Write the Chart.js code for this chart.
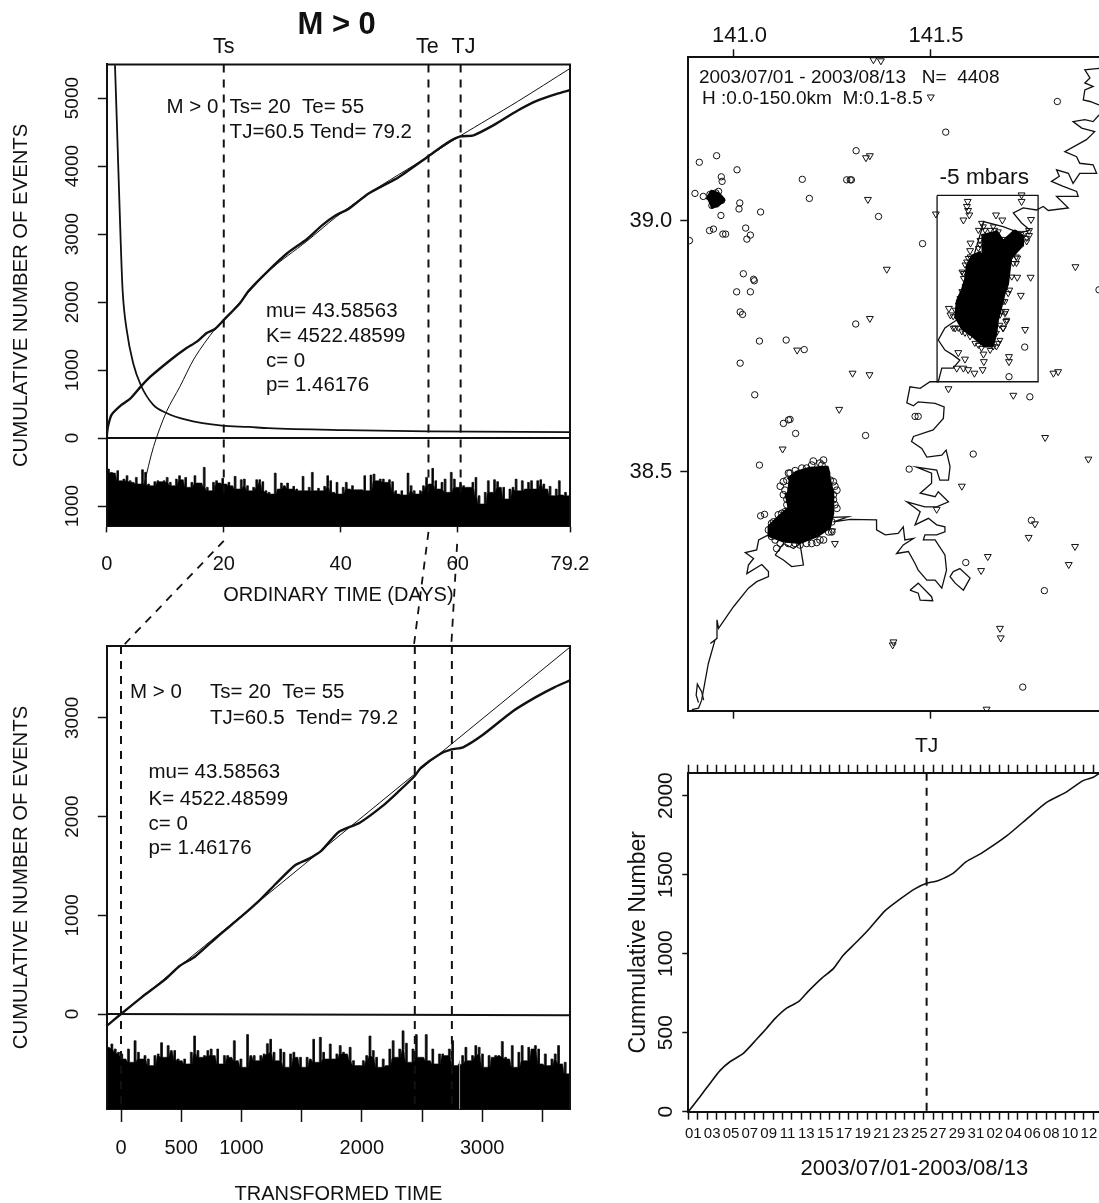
<!DOCTYPE html>
<html>
<head>
<meta charset="utf-8">
<title>M > 0</title>
<script src="https://cdn.jsdelivr.net/npm/chart.js@4/dist/chart.umd.min.js"></script>
<style>
  html, body { margin: 0; padding: 0; background: #fff; }
  body { position: relative; width: 1099px; height: 1203px; overflow: hidden; }
  canvas { position: absolute; }
</style>
</head>
<body>
<canvas id="top-left"></canvas>
<canvas id="bottom-left"></canvas>
<canvas id="map"></canvas>
<canvas id="cumulative"></canvas>
<script>
// ordinary time panel
const ordinaryTicks = [0, 20, 40, 60, 79.2];
const ordinaryCountTicks = [5000, 4000, 3000, 2000, 1000, 0, -1000];
const mainDays = [0, 0.03, 0.2, 0.8, 2.5, 3.95, 5.8, 7.4, 11.1, 13.4, 15.4, 17.1, 18.5, 19.9, 22.8, 24.3, 27.6, 30.9, 34.2, 36.8, 39.1, 41.4, 44.7, 49.9, 55, 58.1, 60.5, 62.7, 66.3, 70.2, 73.5, 76.8, 79.2];
const mainCounts = [0, 60, 170, 340, 487, 575, 756, 899, 1163, 1310, 1418, 1546, 1604, 1727, 1987, 2169, 2459, 2721, 2924, 3128, 3273, 3372, 3593, 3837, 4145, 4337, 4436, 4453, 4610, 4814, 4959, 5058, 5116];
const fitDays = [6.3, 8, 10.2, 12.5, 15, 18.5, 20, 27.6, 34.2, 39.1, 44.7, 55, 60.5, 70.2, 79.2];
const fitCounts = [-709, -126, 388, 756, 1178, 1604, 1733, 2448, 2895, 3244, 3593, 4145, 4448, 4948, 5436];
const rateDays = [1.4, 1.7, 2.35, 2.7, 3.4, 4.5, 5.8, 7.95, 10.2, 13.7, 19.7, 24.3, 27.6, 40.7, 55, 79.2];
const rateCounts = [5483, 4698, 2953, 2178, 1590, 1104, 780, 487, 369, 266, 182, 163, 145, 116, 99, 87];
const ordinaryBand = [456, 505, 515, 480, 628, 603, 554, 628, 652, 579, 676, 466, 505, 676, 701, 642, 628, 642, 628, 579, 652, 701, 603, 554, 613, 579, 725, 652, 554, 662, 662, 431, 725, 775, 652, 628, 662, 593, 676, 652, 701, 564, 750, 613, 603, 701, 775, 725, 613, 613, 642, 775, 799, 824, 515, 750, 662, 701, 662, 750, 711, 750, 775, 564, 775, 725, 505, 775, 740, 775, 711, 554, 628, 799, 652, 824, 725, 652, 750, 701,
  760, 760, 760, 554, 775, 544, 530, 628, 603, 603, 652, 613, 642, 775, 824, 775, 838, 515, 701, 775, 824, 775, 701, 579, 676, 446, 628, 750, 652, 603, 799, 505, 603, 725, 652, 701, 725, 725, 652, 579, 848, 970, 799, 628, 799, 613, 642, 725, 725, 897, 750, 725, 603, 775, 628, 750, 652, 628, 750, 628, 613, 676, 750, 711, 848, 750, 628, 838, 799, 848];
const ordinaryTimes = [20, 55, 60.5];
const connectorFromDays = [20, 55, 59.9];
const connectorFromCounts = [-1513, -1381, -1557];
const connectorToDays = [2.43, 52.5, 58.9];
const connectorToCounts = [-3087, -3057, -3057];

// transformed time panel
const transformedTicks = [0, 500, 1000, 1500, 2000, 2500, 3000, 3500];
const transformedLabels = [0, 500, 1000, 2000, 3000];
const transformedCountTicks = [3000, 2000, 1000, 0];
const transformedTime = [-118, 0, 171, 362, 489, 616, 807, 998, 1157, 1284, 1443, 1554, 1665, 1808, 1983, 2173, 2301, 2437, 2491, 2650, 2745, 2841, 3000, 3254, 3445, 3603, 3730];
const transformedCounts = [-120, 0, 169, 346, 489, 583, 790, 986, 1159, 1317, 1505, 1569, 1656, 1844, 1938, 2108, 2250, 2409, 2495, 2634, 2680, 2702, 2823, 3067, 3210, 3312, 3380];
const unitLineTime = [-118, 3730];
const unitLineCounts = [-120, 3718];
const transformedBand = [337, 303, 354, 387, 404, 455, 354, 488, 270, 387, 455, 421, 455, 522, 421, 404, 290, 438, 320, 370, 370, 455, 472, 455, 505, 387, 222, 370, 438, 421, 370, 354, 421, 354, 505, 421, 421, 438, 270, 472, 455, 539, 208, 421, 421, 472, 421, 404, 300, 255, 387, 472, 354, 387, 539, 404, 387, 438, 438, 539, 438, 455, 255, 488, 236, 387, 455, 303, 455,
  404, 320, 387, 404, 337, 472, 522, 522, 472, 421, 222, 370, 438, 539, 455, 522, 354, 270, 438, 354, 170, 295, 488, 354, 208, 438, 438, 208, 472, 354, 505, 404, 404, 421, 354, 270, 522, 505, 421, 337, 472, 421, 320, 337, 404, 539, 421, 438, 421, 421, 278, 438, 455, 320, 539, 387, 320, 472, 337, 354, 320, 354, 505, 404, 522, 455, 404, 320, 505, 488, 606];
const transformedTimes = [0, 2440, 2748];
const bandGapTime = [2812, 2812];
const bandGapDepth = [-962, -470];

// epicentre map, [lon, lat]
const lonTicks = [141.0, 141.5];
const latTicks = [39.0, 38.5];
const circles = [[141.540,39.176],[141.824,39.237],[141.312,39.139],[140.957,39.129],[140.913,39.116],[141.009,39.101],[140.969,39.087],[140.971,39.078],[141.175,39.082],[141.288,39.081],[141.297,39.081],[141.300,39.081],[140.902,39.054],[140.923,39.048],[140.940,39.052],[140.945,39.030],[140.962,39.058],[140.955,39.055],[140.970,39.040],[141.193,39.044],[141.016,39.035],[141.014,39.023],[141.069,39.017],[140.968,39.010],[141.369,39.008],[140.939,38.980],[140.949,38.983],[140.973,38.973],[140.980,38.973],[141.031,38.985],[141.043,38.971],[141.034,38.963],[140.888,38.960],[141.481,38.954],[141.025,38.894],[141.051,38.883],[141.053,38.880],[141.008,38.858],[141.043,38.858],[141.017,38.818],[141.023,38.813],[141.311,38.794],[141.066,38.760],[141.134,38.762],[141.180,38.743],[141.017,38.716],[141.701,38.689],[141.741,38.748],[141.054,38.653],[141.754,38.649],[141.144,38.604],[141.140,38.603],[141.127,38.596],[141.158,38.576],[141.336,38.572],[141.462,38.610],[141.470,38.610],[141.610,38.535],[141.447,38.505],[141.066,38.513],[141.591,38.319],[141.758,38.403],[141.791,38.263],[141.736,38.071],[141.069,38.412],[141.079,38.415],[141.930,38.862]];
const triangles = [[141.502,39.246],[141.375,39.318],[141.356,39.320],[141.347,39.129],[141.337,39.125],[141.342,39.042],[141.515,39.013],[141.390,38.903],[141.870,38.908],[141.347,38.805],[141.162,38.742],[141.303,38.696],[141.346,38.693],[141.814,38.696],[141.826,38.699],[141.547,38.665],[141.712,38.652],[141.596,39.038],[141.594,39.028],[141.597,39.020],[141.600,39.011],[141.585,39.001],[141.668,39.011],[141.684,39.001],[141.757,39.002],[141.733,39.051],[141.733,39.038],[141.752,38.980],[141.752,38.970],[141.603,38.955],[141.602,38.940],[141.722,38.925],[141.722,38.887],[141.756,38.887],[141.731,38.851],[141.548,38.825],[141.552,38.812],[141.692,38.819],[141.694,38.799],[141.686,38.786],[141.742,38.783],[141.564,38.786],[141.636,38.734],[141.637,38.719],[141.701,38.729],[141.701,38.719],[141.589,38.724],[141.572,38.737],[141.568,38.706],[141.585,38.706],[141.597,38.703],[141.613,38.696],[141.634,38.703],[141.269,38.624],[141.793,38.568],[141.903,38.525],[141.125,38.545],[141.581,38.471],[141.517,38.425],[141.767,38.396],[141.751,38.369],[141.869,38.351],[141.647,38.331],[141.630,38.303],[141.853,38.315],[141.258,38.357],[141.251,38.382],[141.678,38.188],[141.680,38.169],[141.407,38.161],[141.405,38.155],[141.644,38.027]];
const northEdge = [[141.636,38.988],[141.653,38.981],[141.665,38.981],[141.686,38.963],[141.627,38.961],[141.623,38.945],[141.597,38.925],[141.589,38.912],[141.581,38.898],[141.585,38.885],[141.593,38.875],[141.581,38.859],[141.576,38.845],[141.564,38.822],[141.559,38.809],[141.572,38.786],[141.589,38.776],[141.614,38.756],[141.631,38.746],[141.653,38.742],[141.669,38.749],[141.678,38.762],[141.686,38.786],[141.695,38.802],[141.682,38.819],[141.691,38.839],[141.703,38.862],[141.708,38.888],[141.712,38.915],[141.720,38.928],[141.746,38.958],[141.742,38.975],
  [141.631,38.995],[141.640,38.981],[141.661,38.988],[141.674,38.978],[141.623,38.981],[141.627,38.952],[141.602,38.928],[141.593,38.918],[141.610,38.925],[141.585,38.895],[141.597,38.892],[141.589,38.869],[141.585,38.845],[141.572,38.832],[141.593,38.855],[141.691,38.948],[141.703,38.945],[141.725,38.975],[141.746,38.965],[141.699,38.915],[141.720,38.915],[141.695,38.888],[141.699,38.855],[141.686,38.839],[141.678,38.812],[141.691,38.815],[141.678,38.792],[141.669,38.776],[141.674,38.756],[141.661,38.749],[141.623,38.752],[141.602,38.769],[141.581,38.779],[141.559,38.786]];
const southEdge = [[141.229,38.523],[141.203,38.521],[141.186,38.507],[141.144,38.497],[141.127,38.480],[141.119,38.471],[141.136,38.445],[141.131,38.420],[141.114,38.414],[141.097,38.397],[141.106,38.364],[141.110,38.347],[141.157,38.357],[141.186,38.357],[141.212,38.359],[141.229,38.364],[141.250,38.380],[141.258,38.434],[141.254,38.454],[141.258,38.471],[141.246,38.483],[141.225,38.513],[141.237,38.410],[141.136,38.483],
  [141.131,38.463],[141.127,38.454],[141.136,38.434],[141.140,38.497],[141.157,38.502],[141.174,38.507],[141.199,38.513],[141.220,38.517],[141.237,38.497],[141.254,38.480],[141.263,38.463],[141.254,38.444],[141.263,38.427],[141.250,38.400],[141.242,38.380],[141.220,38.364],[141.199,38.357],[141.169,38.354],[141.140,38.357],[141.119,38.357],[141.097,38.371],[141.089,38.384],[141.102,38.400],[141.123,38.417],[141.117,38.400]];
const northBlob = [[141.631,38.968],[141.669,38.975],[141.686,38.955],[141.699,38.965],[141.716,38.977],[141.733,38.968],[141.733,38.952],[141.716,38.938],[141.703,38.925],[141.699,38.902],[141.695,38.875],[141.686,38.855],[141.678,38.829],[141.669,38.802],[141.665,38.776],[141.657,38.752],[141.640,38.752],[141.610,38.772],[141.585,38.786],[141.568,38.809],[141.572,38.839],[141.585,38.862],[141.593,38.882],[141.597,38.908],[141.610,38.928],[141.631,38.935]];
const southBlob = [[141.140,38.483],[141.161,38.497],[141.195,38.505],[141.237,38.507],[141.242,38.483],[141.250,38.457],[141.250,38.417],[141.242,38.390],[141.212,38.374],[141.169,38.361],[141.127,38.364],[141.093,38.374],[141.093,38.390],[141.119,38.410],[141.144,38.427],[141.136,38.457]];
const westBlob = [[140.934,39.041],[140.945,39.056],[140.962,39.051],[140.973,39.041],[140.958,39.031],[140.941,39.029]];
const coastNorthA = [[141.930,39.303],[141.894,39.300],[141.907,39.284],[141.894,39.274],[141.915,39.267],[141.894,39.260],[141.890,39.240],[141.907,39.237],[141.930,39.230]];
const coastMain = [[141.930,39.210],[141.915,39.197],[141.894,39.201],[141.864,39.197],[141.886,39.184],[141.919,39.177],[141.898,39.161],[141.843,39.137],[141.873,39.127],[141.881,39.114],[141.915,39.111],[141.924,39.094],[141.881,39.094],[141.864,39.074],[141.852,39.094],[141.822,39.101],[141.829,39.088],[141.809,39.078],[141.839,39.068],[141.873,39.058],[141.877,39.048],[141.822,39.048],[141.852,39.025],[141.801,39.020],[141.788,39.028],[141.771,39.021],[141.737,39.025],[141.712,39.015],[141.733,38.995],[141.754,38.981],[141.729,38.975],[141.686,38.988],[141.636,38.998],[141.631,38.981],[141.600,38.900],[141.568,38.802],[141.538,38.786],[141.521,38.762],[141.538,38.742],[141.559,38.732],[141.576,38.722],[141.559,38.706],[141.530,38.706],[141.521,38.679],[141.500,38.679],[141.475,38.666],[141.449,38.669],[141.441,38.637],[141.458,38.631],[141.470,38.639],[141.513,38.636],[141.536,38.629],[141.534,38.606],[141.508,38.583],[141.458,38.570],[141.453,38.560],[141.479,38.546],[141.492,38.529],[141.530,38.533],[141.541,38.543],[141.551,38.510],[141.547,38.483],[141.525,38.483],[141.517,38.503],[141.466,38.509],[141.504,38.497],[141.504,38.477],[141.475,38.457],[141.513,38.450],[141.521,38.460],[141.547,38.440],[141.517,38.430],[141.487,38.430],[141.441,38.440],[141.475,38.420],[141.462,38.394],[141.496,38.407],[141.517,38.394],[141.538,38.390],[141.538,38.380],[141.517,38.374],[141.487,38.374],[141.483,38.364],[141.513,38.364],[141.538,38.334],[141.542,38.304],[141.530,38.268],[141.513,38.284],[141.492,38.284],[141.470,38.304],[141.462,38.317],[141.445,38.341],[141.415,38.337],[141.432,38.354],[141.458,38.367],[141.436,38.364],[141.432,38.390],[141.419,38.377],[141.386,38.374],[141.364,38.384],[141.364,38.404],[141.297,38.405],[141.254,38.400],[141.292,38.410],[141.250,38.409],[141.170,38.400],[141.089,38.374],[141.064,38.364],[141.059,38.344],[141.030,38.339],[141.051,38.327],[141.038,38.314],[141.034,38.297],[141.072,38.315],[141.089,38.301],[141.089,38.291],[141.059,38.281],[141.038,38.268],[141.000,38.231],[140.962,38.188],[140.958,38.205],[140.958,38.168],[140.941,38.158],[140.953,38.165],[140.936,38.118],[140.919,38.045],[140.911,38.029],[140.894,38.026]];
const islandEast = [[141.559,38.301],[141.576,38.307],[141.602,38.288],[141.585,38.264],[141.564,38.278],[141.551,38.291],[141.559,38.301]];
const islandSouth = [[141.449,38.264],[141.470,38.278],[141.504,38.251],[141.507,38.243],[141.475,38.244],[141.470,38.258],[141.449,38.264]];
const islandWest = [[141.106,38.334],[141.127,38.357],[141.153,38.347],[141.169,38.357],[141.178,38.314],[141.148,38.311],[141.127,38.324],[141.106,38.334]];
const bayMatsushima = [[140.911,38.040],[140.905,38.055],[140.908,38.077],[140.919,38.062],[140.924,38.045]];
const boxLon = [141.518, 141.775, 141.775, 141.518, 141.518];
const boxLat = [39.050, 39.050, 38.679, 38.679, 39.050];

// cumulative number panel
const dayLabels = ["01", "03", "05", "07", "09", "11", "13", "15", "17", "19", "21", "23", "25", "27", "29", "31", "02", "04", "06", "08", "10", "12"];
const dayTicks = [0, 1, 2, 3, 4, 5, 6, 7, 8, 9, 10, 11, 12, 13, 14, 15, 16, 17, 18, 19, 20, 21, 22, 23, 24, 25, 26, 27, 28, 29, 30, 31, 32, 33, 34, 35, 36, 37, 38, 39, 40, 41, 42, 43];
const numberTicks = [2000, 1500, 1000, 500, 0];
const cumulativeDays = [0, 1.24, 2.3, 3.36, 4.42, 5.84, 7.25, 8.3, 9.2, 10.4, 11.7, 12.7, 14.15, 15.4, 16.45, 17.7, 19.1, 20.9, 22.5, 24.05, 25.3, 26.5, 28.1, 29.5, 31.1, 33.8, 36.1, 38, 40.2, 41.9, 43, 43.6];
const cumulativeNumber = [0, 95, 179, 260, 316, 369, 458, 527, 589, 654, 696, 760, 844, 905, 990, 1064, 1150, 1272, 1346, 1410, 1445, 1462, 1508, 1582, 1635, 1745, 1861, 1956, 2025, 2095, 2116, 2140];
const jumpDay = 25.3;

Chart.defaults.font.family = "'Liberation Sans', Arial, sans-serif";
Chart.defaults.color = "#111";
Chart.defaults.animation = false;

const ink = "#111";

function pairs(xs, ys) {
  return xs.map((x, i) => ({ x: x, y: ys[i] }));
}
function lonLat(list) {
  return list.map(p => ({ x: p[0], y: p[1] }));
}
function curve(data, width, extra) {
  return Object.assign({ data: data, showLine: true, borderColor: ink, borderWidth: width, pointRadius: 0 }, extra || {});
}
function dashed(data) {
  return curve(data, 2, { borderDash: [8, 7] });
}
// comb outline: every bin is a narrow needle standing on the lower of its neighbours
function bandSeries(depths, start, end) {
  const step = (end - start) / depths.length;
  const half = step * 0.27;
  const out = [];
  depths.forEach((d, i) => {
    const x = start + (i + 0.5) * step;
    const foot = Math.max(d, depths[i - 1] || d, depths[i + 1] || d);
    out.push({ x: x - half, y: -foot }, { x: x - half, y: -d }, { x: x + half, y: -d }, { x: x + half, y: -foot });
  });
  return out;
}

// text placed in data coordinates, and the two far sides of the R style box
const panelNotes = {
  id: "panelNotes",
  afterDraw(chart, args, opts) {
    const ctx = chart.ctx;
    const xScale = chart.scales.x;
    const yScale = chart.scales.y;
    ctx.save();
    if (opts.box) {
      const a = chart.chartArea;
      ctx.strokeStyle = ink;
      ctx.lineWidth = 2;
      ctx.beginPath();
      ctx.moveTo(a.left, a.top);
      ctx.lineTo(a.right, a.top);
      ctx.lineTo(a.right, a.bottom);
      ctx.stroke();
    }
    (opts.notes || []).forEach(n => {
      ctx.font = (n.bold ? "bold " : "") + n.size + "px 'Liberation Sans', Arial, sans-serif";
      ctx.fillStyle = ink;
      ctx.textAlign = n.align || "left";
      ctx.textBaseline = "middle";
      ctx.fillText(n.text, xScale.getPixelForValue(n.x), yScale.getPixelForValue(n.y));
    });
    ctx.restore();
  }
};
Chart.register(panelNotes);

function fixedTicks(list) {
  return scale => { scale.ticks = list.map(v => ({ value: v })); };
}
function axisGrid(len) {
  return { drawOnChartArea: false, tickLength: len, tickColor: ink, tickWidth: 1.5 };
}
const axisBorder = { display: true, width: 2, color: ink };

function sized(id, left, top, width, height) {
  const c = document.getElementById(id);
  c.width = width;
  c.height = height;
  c.style.left = left + "px";
  c.style.top = top + "px";
  return c;
}

function baseOptions(padding, notes, box, scales) {
  return {
    responsive: false,
    maintainAspectRatio: false,
    events: [],
    layout: { autoPadding: false, padding: padding },
    plugins: { legend: { display: false }, tooltip: { enabled: false }, panelNotes: { notes: notes, box: box } },
    scales: scales
  };
}

// ordinary time
const ordinaryNotes = [
  { text: "M > 0", x: 39.3, y: 6064, size: 31, bold: true, align: "center" },
  { text: "Ts", x: 20, y: 5745, size: 21.5, align: "center" },
  { text: "Te", x: 54.8, y: 5745, size: 21.5, align: "center" },
  { text: "TJ", x: 61, y: 5745, size: 21.5, align: "center" },
  { text: "M > 0", x: 10.2, y: 4860, size: 20.5 },
  { text: "Ts= 20  Te= 55", x: 21, y: 4860, size: 20.5 },
  { text: "TJ=60.5 Tend= 79.2", x: 21, y: 4494, size: 20.5 },
  { text: "mu= 43.58563", x: 27.2, y: 1860, size: 20.5 },
  { text: "K= 4522.48599", x: 27.2, y: 1501, size: 20.5 },
  { text: "c= 0", x: 27.2, y: 1122, size: 20.5 },
  { text: "p= 1.46176", x: 27.2, y: 774, size: 20.5 }
];
new Chart(sized("top-left", 0, 0, 620, 660), {
  type: "scatter",
  data: {
    datasets: [
      curve(pairs(mainDays, mainCounts), 2.4, { tension: 0.2 }),
      curve(pairs(fitDays, fitCounts), 1, { tension: 0.3 }),
      curve(pairs(rateDays, rateCounts), 1.8, { cubicInterpolationMode: "monotone" }),
      curve(pairs([0, 79.2], [0, 0]), 2),
      dashed(pairs([ordinaryTimes[0], ordinaryTimes[0]], [5496, -900])),
      dashed(pairs([ordinaryTimes[1], ordinaryTimes[1]], [5496, -900])),
      dashed(pairs([ordinaryTimes[2], ordinaryTimes[2]], [5496, -900])),
      dashed(pairs([connectorFromDays[0], connectorToDays[0]], [connectorFromCounts[0], connectorToCounts[0]])),
      dashed(pairs([connectorFromDays[1], connectorToDays[1]], [connectorFromCounts[1], connectorToCounts[1]])),
      dashed(pairs([connectorFromDays[2], connectorToDays[2]], [connectorFromCounts[2], connectorToCounts[2]])),
      curve(bandSeries(ordinaryBand, 0, 79.2), 0.6, { fill: "start", backgroundColor: "#000" })
    ].map((d, i) => (i >= 7 && i <= 9 ? Object.assign(d, { clip: false, borderWidth: 1.8 }) : d))
  },
  options: baseOptions({ top: 64.4, right: 50 }, ordinaryNotes, true, {
    x: {
      type: "linear", min: 0, max: 79.2, position: "bottom",
      grid: axisGrid(6), border: axisBorder,
      afterBuildTicks: fixedTicks(ordinaryTicks),
      afterFit: s => { s.height = 133.6; },
      ticks: { autoSkip: false, maxRotation: 0, padding: 20, font: { size: 20 }, color: ink, callback: v => String(v) },
      title: { display: true, text: "ORDINARY TIME (DAYS)", font: { size: 20 }, color: ink, padding: { top: 0, bottom: 53 } }
    },
    y: {
      type: "linear", min: -1300, max: 5496, position: "left",
      grid: axisGrid(9), border: axisBorder,
      afterBuildTicks: fixedTicks(ordinaryCountTicks),
      afterFit: s => { s.width = 106.8; },
      ticks: { autoSkip: false, minRotation: 90, maxRotation: 90, crossAlign: "center", padding: 4, font: { size: 19 }, color: ink, callback: v => String(Math.abs(v)) },
      title: { display: true, text: "CUMULATIVE NUMBER OF EVENTS", font: { size: 20.3 }, color: ink, padding: { top: 9, bottom: 0 } }
    }
  })
});

// transformed time
const transformedNotes = [
  { text: "M > 0", x: 75, y: 3257, size: 20.5 },
  { text: "Ts= 20  Te= 55", x: 739, y: 3257, size: 20.5 },
  { text: "TJ=60.5  Tend= 79.2", x: 739, y: 2994, size: 20.5 },
  { text: "mu= 43.58563", x: 228, y: 2448, size: 20.5 },
  { text: "K= 4522.48599", x: 228, y: 2172, size: 20.5 },
  { text: "c= 0", x: 228, y: 1920, size: 20.5 },
  { text: "p= 1.46176", x: 228, y: 1676, size: 20.5 }
];
new Chart(sized("bottom-left", 0, 620, 620, 583), {
  type: "scatter",
  data: {
    datasets: [
      curve(pairs(transformedTime, transformedCounts), 2.4, { tension: 0.2 }),
      curve(pairs(unitLineTime, unitLineCounts), 1),
      curve(pairs([-118, 3729], [0, -12]), 2),
      dashed(pairs([transformedTimes[0], transformedTimes[0]], [3728, -962])),
      dashed(pairs([transformedTimes[1], transformedTimes[1]], [3728, -962])),
      dashed(pairs([transformedTimes[2], transformedTimes[2]], [3728, -962])),
      curve(pairs(bandGapTime, bandGapDepth), 1, { borderColor: "#999" }),
      curve(bandSeries(transformedBand, -118, 3729), 0.6, { fill: "start", backgroundColor: "#000" })
    ]
  },
  options: baseOptions({ top: 26, right: 50 }, transformedNotes, true, {
    x: {
      type: "linear", min: -118, max: 3729, position: "bottom",
      grid: axisGrid(13), border: axisBorder,
      afterBuildTicks: fixedTicks(transformedTicks),
      afterFit: s => { s.height = 94; },
      ticks: { autoSkip: false, maxRotation: 0, padding: 14, font: { size: 20 }, color: ink, callback: v => (transformedLabels.includes(v) ? String(v) : "") },
      title: { display: true, text: "TRANSFORMED TIME", font: { size: 20 }, color: ink, padding: { top: 0, bottom: -3 } }
    },
    y: {
      type: "linear", min: -962, max: 3728, position: "left",
      grid: axisGrid(9), border: axisBorder,
      afterBuildTicks: fixedTicks(transformedCountTicks),
      afterFit: s => { s.width = 106.8; },
      ticks: { autoSkip: false, minRotation: 90, maxRotation: 90, crossAlign: "center", padding: 4, font: { size: 19 }, color: ink, callback: v => String(v) },
      title: { display: true, text: "CUMULATIVE NUMBER OF EVENTS", font: { size: 20.3 }, color: ink, padding: { top: 9, bottom: 0 } }
    }
  })
});

// map
function markers(list, shape, radius, rotation) {
  return { data: lonLat(list), pointStyle: shape, pointRadius: radius, pointRotation: rotation || 0, pointBorderColor: ink, pointBackgroundColor: "rgba(255,255,255,0)", pointBorderWidth: 1, showLine: false, xAxisID: "x", yAxisID: "y" };
}
function coast(list) {
  return curve(lonLat(list), 1.3, { xAxisID: "x", yAxisID: "y" });
}
function blob(list) {
  return curve(lonLat(list), 5, { fill: "shape", backgroundColor: "#000", borderColor: "#000", borderJoinStyle: "round", xAxisID: "x", yAxisID: "y" });
}
const mapNotes = [
  { text: "2003/07/01 - 2003/08/13   N=  4408", x: 140.912, y: 39.284, size: 19 },
  { text: "H :0.0-150.0km  M:0.1-8.5", x: 140.92, y: 39.242, size: 19 },
  { text: "-5 mbars", x: 141.638, y: 39.085, size: 22.7, align: "center" }
];
new Chart(sized("map", 620, 0, 479, 740), {
  type: "scatter",
  data: {
    datasets: [
      blob(northBlob), blob(southBlob), blob(westBlob),
      markers(circles, "circle", 3.2),
      markers(triangles, "triangle", 4, 180),
      markers(northEdge, "triangle", 3.4, 180),
      markers(southEdge, "circle", 3.4),
      curve(pairs(boxLon, boxLat), 1.3, { xAxisID: "x", yAxisID: "y" }),
      coast(coastNorthA), coast(coastMain), coast(islandEast), coast(islandSouth), coast(islandWest), coast(bayMatsushima)
    ]
  },
  options: baseOptions({ top: 0, right: 0 }, mapNotes, false, {
    x: {
      type: "linear", min: 140.885, max: 141.93, position: "top",
      grid: axisGrid(8), border: axisBorder,
      afterBuildTicks: fixedTicks(lonTicks),
      afterFit: s => { s.height = 57.3; },
      ticks: { autoSkip: false, maxRotation: 0, padding: 0, labelOffset: 6, font: { size: 22 }, color: ink, callback: v => v.toFixed(1) }
    },
    x2: {
      type: "linear", min: 140.885, max: 141.93, position: "bottom",
      grid: axisGrid(8), border: axisBorder,
      afterBuildTicks: fixedTicks(lonTicks),
      afterFit: s => { s.height = 29.3; },
      ticks: { display: false, autoSkip: false }
    },
    y: {
      type: "linear", min: 38.024, max: 39.325, position: "left",
      grid: axisGrid(8), border: axisBorder,
      afterBuildTicks: fixedTicks(latTicks),
      afterFit: s => { s.width = 68.3; },
      ticks: { autoSkip: false, padding: 8, font: { size: 22 }, color: ink, callback: v => v.toFixed(1) }
    }
  })
});

// cumulative number
const cumulativeNotes = [
  { text: "TJ", x: jumpDay, y: 2310, size: 21, align: "center" },
  { text: "2003/07/01-2003/08/13", x: 24, y: -360, size: 22, align: "center" }
];
new Chart(sized("cumulative", 620, 725, 479, 478), {
  type: "scatter",
  data: {
    datasets: [
      curve(pairs(cumulativeDays, cumulativeNumber), 1.6, { tension: 0.2 }),
      dashed(pairs([jumpDay, jumpDay], [2145, 0]))
    ]
  },
  options: baseOptions({ top: 0, right: 0 }, cumulativeNotes, false, {
    x: {
      type: "linear", min: 0, max: 43.6, position: "bottom",
      grid: axisGrid(8), border: axisBorder,
      afterBuildTicks: fixedTicks(dayTicks),
      afterFit: s => { s.height = 91.3; },
      ticks: { autoSkip: false, maxRotation: 0, padding: 5, labelOffset: 5, font: { size: 15 }, color: ink,
        callback: v => (v % 2 === 0 ? dayLabels[v / 2] : "") }
    },
    x2: {
      type: "linear", min: 0, max: 43.6, position: "top",
      grid: axisGrid(8), border: axisBorder,
      afterBuildTicks: fixedTicks(dayTicks),
      afterFit: s => { s.height = 47.7; },
      ticks: { display: false, autoSkip: false }
    },
    y: {
      type: "linear", min: 0, max: 2145, position: "left",
      grid: axisGrid(6), border: axisBorder,
      afterBuildTicks: fixedTicks(numberTicks),
      afterFit: s => { s.width = 68.3; },
      ticks: { autoSkip: false, minRotation: 90, maxRotation: 90, crossAlign: "center", padding: -7, font: { size: 21 }, color: ink, callback: v => String(v) },
      title: { display: true, text: "Cummulative Number", font: { size: 23 }, color: ink, padding: { top: 5, bottom: 0 } }
    }
  })
});
</script>
</body>
</html>
